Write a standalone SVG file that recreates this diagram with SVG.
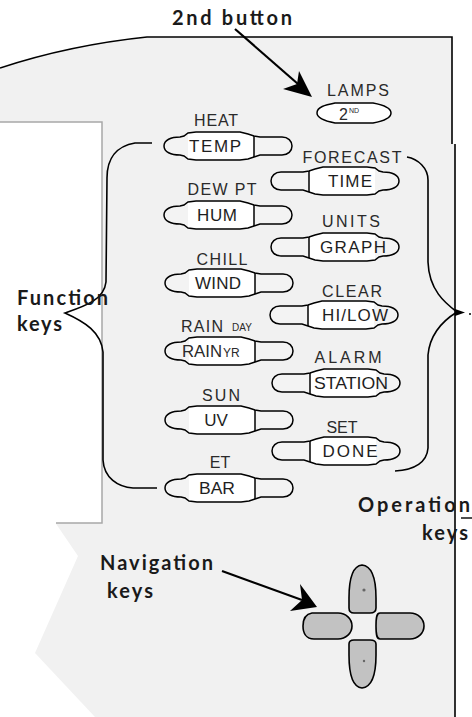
<svg xmlns="http://www.w3.org/2000/svg" xmlns:xlink="http://www.w3.org/1999/xlink" width="472" height="717" viewBox="0 0 472 717">
<style>
.lbl{font-family:"Liberation Sans",Arial,sans-serif;font-size:16px;fill:#2a2a2a;text-anchor:middle}
.kt{font-family:"Liberation Sans",Arial,sans-serif;font-size:17px;fill:#1e1e1e;text-anchor:middle}
.sm{font-family:"Liberation Sans",Arial,sans-serif;fill:#2a2a2a}
.big{font-family:Lato,"Liberation Sans",sans-serif;font-weight:bold;font-size:20px;fill:#1a1a1a}
.ln{fill:none;stroke:#000;stroke-width:1.6}
.kf{fill:#f3f3f3;stroke:none}
.ks{fill:none;stroke:#000;stroke-width:1.5}
.nav{fill:#c2c2c2;stroke:#000;stroke-width:1.6}
</style>
<defs>
<path id="kout" d="M-64,0 C-64,-6 -57,-9 -48,-9 L-44,-10 L-40,-13 L-32,-14 L12,-14 L20,-12 L26,-10 L32,-9 L54,-9 C60,-9 64,-5 64,0 C64,5 60,9 54,9 L32,9 L26,11 L20,13 L12,14 L-32,14 L-40,13 L-44,10 L-48,9 C-57,9 -64,6 -64,0 Z"/>
<g id="keyL">
<use xlink:href="#kout" class="kf"/>
<path fill="#fff" d="M-40,-12.5 L-32,-13.3 L12,-13.3 L20,-11.3 L26,-9.3 L26,10.3 L20,12.3 L12,13.3 L-32,13.3 L-40,12.5 Z"/>
<use xlink:href="#kout" class="ks"/>
<path class="ks" d="M26,-10 V11"/>
</g>
</defs>

<g id="device">
<path fill="#f1f1f1" d="M0,68 Q70,45 147,37 L452,37 L452,144 L455,144 L455,717 L95,717 L35,653 L78,556 L48,512 L0,512 Z"/>
<rect x="0" y="122" width="102" height="401" fill="#fff"/>
<path fill="none" stroke="#a8a8a8" stroke-width="1.5" d="M0,122 H102 V523 H56"/>
<path class="ln" d="M0,68 Q70,45 147,37 L452,37 L452,144 M455,144 V717"/>
</g>

<g id="connectors">
<path class="ln" d="M152,143 L135,143 C117,146 107,158 107,178 L106,282 C104,300 85,306 65,313 C85,322 101,332 103,352 L103,460 C104,478 118,487 133,488 L157,488"/>
<path class="ln" d="M407,157 C418,159 428,168 428,180 L428,262 C429,290 445,303 457,312 C444,320 430,333 428,355 L428,448 C427,462 415,470 395,471"/>
<polygon points="455,309 465,312.5 455,316" fill="#000"/>
<circle cx="470" cy="314" r="1" fill="#000"/>
<path d="M461,518 H472" stroke="#000" stroke-width="1.4"/>
<path d="M235,29 L298,84" stroke="#000" stroke-width="2.2" fill="none"/>
<polygon points="312,97 299,71 297,84 283,89" fill="#000"/>
<path d="M222,571 L302,600" stroke="#000" stroke-width="2.2" fill="none"/>
<polygon points="317,607 300,584 302,600 290,611" fill="#000"/>
</g>

<g id="label-2nd-button"><text class="big" x="172" y="25" textLength="120" lengthAdjust="spacing">2nd button</text></g>
<g id="label-function-keys"><text class="big" x="17" y="305" textLength="91" lengthAdjust="spacing">Function</text><text class="big" x="17" y="331" textLength="45" lengthAdjust="spacing">keys</text></g>
<g id="label-operation-keys"><text class="big" x="358" y="512" textLength="112" lengthAdjust="spacing">Operation</text><text class="big" x="422" y="540" textLength="46" lengthAdjust="spacing">keys</text></g>
<g id="label-navigation-keys"><text class="big" x="100" y="570" textLength="113" lengthAdjust="spacing">Navigation</text><text class="big" x="107" y="598" textLength="46" lengthAdjust="spacing">keys</text></g>

<g id="key-2nd">
<text class="lbl" x="358" y="96" textLength="62" lengthAdjust="spacing">LAMPS</text>
<path fill="#fff" stroke="#000" stroke-width="1.5" d="M317,113 C317,107 325,105 335,103 L373,103 C384,105 391,108 391,113 C391,118 384,121 373,123 L335,123 C325,121 317,118 317,113 Z"/>
<text class="sm" x="339" y="120" font-size="16">2</text><text class="sm" x="349" y="113" font-size="7">ND</text>
</g>

<g id="key-temp"><text class="lbl" x="216" y="126" textLength="44" lengthAdjust="spacing">HEAT</text><use xlink:href="#keyL" transform="translate(228,146)"/><text class="kt" x="215" y="152" textLength="52" lengthAdjust="spacing">TEMP</text></g>
<g id="key-hum"><text class="lbl" x="222" y="195" textLength="69" lengthAdjust="spacing">DEW PT</text><use xlink:href="#keyL" transform="translate(228,215)"/><text class="kt" x="217" y="221" textLength="40" lengthAdjust="spacing">HUM</text></g>
<g id="key-wind"><text class="lbl" x="222" y="265" textLength="51" lengthAdjust="spacing">CHILL</text><use xlink:href="#keyL" transform="translate(229,283)"/><text class="kt" x="218" y="289" textLength="46" lengthAdjust="spacing">WIND</text></g>
<g id="key-rain"><text class="sm" x="181" y="332" font-size="16" textLength="42" lengthAdjust="spacing">RAIN</text><text class="sm" x="232" y="331" font-size="10">DAY</text><use xlink:href="#keyL" transform="translate(229,351)"/><text class="sm" x="182" y="357" font-size="17" fill="#1e1e1e" textLength="40" lengthAdjust="spacingAndGlyphs">RAIN</text><text class="sm" x="223" y="357" font-size="12">YR</text></g>
<g id="key-uv"><text class="lbl" x="221" y="401" textLength="38" lengthAdjust="spacing">SUN</text><use xlink:href="#keyL" transform="translate(229,420)"/><text class="kt" x="216" y="426">UV</text></g>
<g id="key-bar"><text class="lbl" x="220" y="468">ET</text><use xlink:href="#keyL" transform="translate(229,488)"/><text class="kt" x="217" y="494" textLength="36" lengthAdjust="spacingAndGlyphs">BAR</text></g>

<g id="key-time"><text class="lbl" x="352" y="163" textLength="99" lengthAdjust="spacing">FORECAST</text><use xlink:href="#keyL" transform="translate(335,181) scale(-1,1)"/><text class="kt" x="350" y="187" textLength="44" lengthAdjust="spacing">TIME</text></g>
<g id="key-graph"><text class="lbl" x="351" y="227" textLength="58" lengthAdjust="spacing">UNITS</text><use xlink:href="#keyL" transform="translate(335,247) scale(-1,1)"/><text class="kt" x="353" y="253" textLength="66" lengthAdjust="spacing">GRAPH</text></g>
<g id="key-hilow"><text class="lbl" x="352" y="297" textLength="60" lengthAdjust="spacing">CLEAR</text><use xlink:href="#keyL" transform="translate(334,315) scale(-1,1)"/><text class="kt" x="355" y="321" textLength="66" lengthAdjust="spacing">HI/LOW</text></g>
<g id="key-station"><text class="lbl" x="348" y="363" textLength="67" lengthAdjust="spacing">ALARM</text><use xlink:href="#keyL" transform="translate(336,383) scale(-1,1)"/><text class="kt" x="351" y="389" textLength="74" lengthAdjust="spacingAndGlyphs">STATION</text></g>
<g id="key-done"><text class="lbl" x="342" y="433">SET</text><use xlink:href="#keyL" transform="translate(336,451) scale(-1,1)"/><text class="kt" x="350" y="457" textLength="55" lengthAdjust="spacing">DONE</text></g>

<g id="nav-up"><path class="nav" d="M362,565 C372,566 376,580 376,598 L376,608 C376,612 373,613 370,613 L354,613 C351,613 349,612 349,608 L349,598 C349,580 352,566 362,565 Z"/><circle cx="364" cy="590" r="1.6" fill="#666"/></g>
<g id="nav-down"><path class="nav" d="M349,644 C349,641 351,640 354,640 L370,640 C373,640 376,641 376,644 L376,655 C376,673 372,687 362,688 C352,687 349,673 349,655 Z"/><circle cx="364" cy="661" r="1.2" fill="#666"/></g>
<g id="nav-left"><path class="nav" d="M312,613 C306,614 303,619 303,626 C303,633 306,639 314,639 L338,639 C346,639 352,633 352,626 C352,619 346,613 338,613 Z"/></g>
<g id="nav-right"><path class="nav" d="M380,613 L410,613 C418,613 424,619 424,626 C424,633 418,639 410,639 L380,639 C377,639 376,636 376,626 C376,616 377,613 380,613 Z"/></g>
</svg>
